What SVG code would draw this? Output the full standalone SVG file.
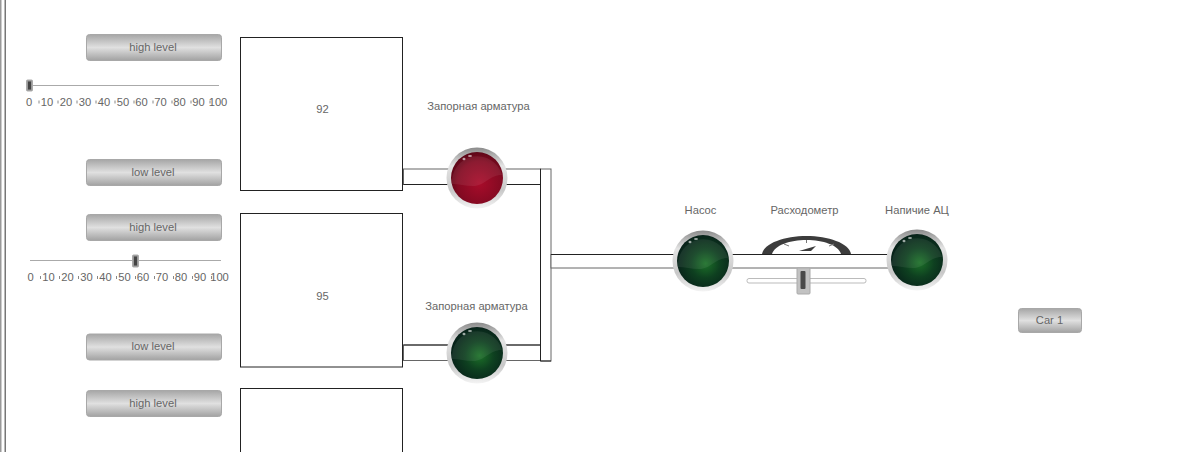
<svg xmlns="http://www.w3.org/2000/svg" width="1199" height="452" viewBox="0 0 1199 452">
<style>
text{font-family:"Liberation Sans",Arial,sans-serif;font-size:11.2px;fill:#666;text-anchor:middle}
.btn{fill:url(#bg);stroke:#a8a8a8;stroke-width:1}
.box{fill:#fff;stroke:#222;stroke-width:1}
.pipe{fill:#fff;stroke:#666;stroke-width:1}
.dark{fill:none;stroke:#222;stroke-width:1}
.rim{fill:url(#rim)}
.shine{fill:#fff;opacity:.07}
.spark{fill:#fff;opacity:.6}
.trk{stroke:#aaa;stroke-width:1}
.tick{stroke:#888;stroke-width:1}
.th{fill:#999;stroke:#aaa}
.thi{fill:#444}
</style>
<defs>
<linearGradient id="bg" x1="0" y1="0" x2="0" y2="1"><stop offset="0" stop-color="#a6a6a6"/><stop offset=".5" stop-color="#e0e0e0"/><stop offset="1" stop-color="#a2a2a2"/></linearGradient>
<linearGradient id="rim" x1="0" y1="0" x2="0" y2="1"><stop offset="0" stop-color="#8a8a8a"/><stop offset=".3" stop-color="#e4e4e4"/><stop offset=".7" stop-color="#c8c8c8"/><stop offset="1" stop-color="#f4f4f4"/></linearGradient>
<radialGradient id="green" cx=".55" cy=".55" r=".55"><stop offset="0" stop-color="#1c7028"/><stop offset=".5" stop-color="#0e4020"/><stop offset="1" stop-color="#08231a"/></radialGradient>
<radialGradient id="red" cx=".55" cy=".6" r=".6"><stop offset="0" stop-color="#a80c2a"/><stop offset=".7" stop-color="#840a22"/><stop offset="1" stop-color="#5c0718"/></radialGradient>
<g id="gl"><path class="shine" d="M-25,6A25.500,25.500 0 0 1 25,-3C12,-3 8,8 -4,8C-12,8 -18,6 -25,6Z"/><ellipse class="spark" cx="-13" cy="-19" rx="1.500" ry="1.200"/><ellipse class="spark" cx="-7" cy="-22" rx="2" ry="1.100"/></g>
<g id="scale">
<line class="tick" x1="10" y1="-5" x2="10" y2="-2"/><line class="tick" x1="29" y1="-5" x2="29" y2="-2"/><line class="tick" x1="48" y1="-5" x2="48" y2="-2"/><line class="tick" x1="67" y1="-5" x2="67" y2="-2"/><line class="tick" x1="86" y1="-5" x2="86" y2="-2"/><line class="tick" x1="105" y1="-5" x2="105" y2="-2"/><line class="tick" x1="124" y1="-5" x2="124" y2="-2"/><line class="tick" x1="143" y1="-5" x2="143" y2="-2"/><line class="tick" x1="162" y1="-5" x2="162" y2="-2"/><line class="tick" x1="181" y1="-5" x2="181" y2="-2"/>
<text x="0" y="0">0</text><text x="18" y="0">10</text><text x="37" y="0">20</text><text x="56" y="0">30</text><text x="75" y="0">40</text><text x="94" y="0">50</text><text x="112.500" y="0">60</text><text x="131.500" y="0">70</text><text x="150.500" y="0">80</text><text x="169.500" y="0">90</text><text x="189" y="0">100</text>
</g>
</defs>
<rect width="1199" height="452" fill="#fff"/>
<g id="frame"><rect x="0" y="0" width="1.500" height="452" fill="#999"/><rect x="4.500" y="0" width="1.500" height="452" fill="#777"/></g>

<g id="connectors">
<rect class="pipe" x="403.500" y="169" width="137" height="15.500"/>
<rect class="pipe" x="403.500" y="345" width="137" height="15.500"/>
<path class="dark" d="M403.500,184.500H540.500M403.500,345H540.500"/>
<rect class="pipe" x="540.500" y="169" width="10.500" height="192"/>
<path class="dark" d="M540.500,169V361H551"/>
<rect class="pipe" x="551" y="254.500" width="339" height="13.500"/>
<path class="dark" d="M551,254.500H890"/>
</g>

<g id="btn-high-1"><rect class="btn" x="86.500" y="34.500" width="135" height="26" rx="3"/><text x="153" y="50.500">high level</text></g>
<g id="btn-low-1"><rect class="btn" x="86.500" y="159.500" width="135" height="26" rx="3"/><text x="153" y="175.500">low level</text></g>
<g id="btn-high-2"><rect class="btn" x="86.500" y="214.500" width="135" height="26" rx="3"/><text x="153" y="230.500">high level</text></g>
<g id="btn-low-2"><rect class="btn" x="86.500" y="334" width="135" height="26" rx="3"/><text x="153" y="350">low level</text></g>
<g id="btn-high-3"><rect class="btn" x="86.500" y="390.500" width="135" height="26" rx="3"/><text x="153" y="406.500">high level</text></g>

<g id="slider-1"><line class="trk" x1="29" y1="85.500" x2="219" y2="85.500"/><rect class="th" x="26.500" y="80" width="6" height="11" rx="1"/><rect class="thi" x="28" y="81.500" width="3" height="8"/><use href="#scale" x="29" y="105.500"/></g>
<g id="slider-2"><line class="trk" x1="30" y1="260.500" x2="221" y2="260.500"/><rect class="th" x="132.500" y="255" width="6" height="12" rx="1"/><rect class="thi" x="134" y="256.500" width="3" height="9"/><use href="#scale" x="30.500" y="281"/></g>

<g id="tank-92"><rect class="box" x="240.500" y="37.500" width="162" height="153"/><text x="322.500" y="112.500">92</text></g>
<g id="tank-95"><rect class="box" x="240.500" y="213.500" width="162" height="153.500"/><text x="322.500" y="299.500">95</text></g>
<g id="tank-3"><rect class="box" x="240.500" y="388.500" width="162" height="70"/></g>

<g id="valve-1"><text x="478.500" y="110">Запорная арматура</text><circle class="rim" cx="477" cy="178" r="30.500"/><circle cx="477" cy="178" r="26" fill="url(#red)"/><use href="#gl" x="477" y="178"/></g>
<g id="valve-2"><text x="476.500" y="310">Запорная арматура</text><circle class="rim" cx="477" cy="353" r="30.500"/><circle cx="477" cy="353" r="26" fill="url(#green)"/><use href="#gl" x="477" y="353"/></g>
<g id="pump"><text x="700.500" y="214">Насос</text><circle class="rim" cx="703" cy="261" r="30.500"/><circle cx="703" cy="261" r="26" fill="url(#green)"/><use href="#gl" x="703" y="261"/></g>
<g id="presence"><text x="917" y="214">Напичие АЦ</text><circle class="rim" cx="917" cy="260" r="30.500"/><circle cx="917" cy="260" r="26" fill="url(#green)"/><use href="#gl" x="917" y="260"/></g>

<g id="flowmeter"><text x="804.500" y="214">Расходометр</text>
<path d="M762,254C764,243 785,236 806.500,236C828,236 849,243 851,254Z" fill="#3c3c3c"/>
<path d="M772,254C775,245 790,240 806.500,240C823,240 838,245 841,254Z" fill="#fff"/>
<path d="M799,251L816,246L811,251Z" fill="#3c3c3c"/>
<path d="M806.500,240V243M784,244L789,246M829,246L834,244" stroke="#777" fill="none"/>
<rect x="747" y="278.500" width="119" height="4.500" rx="2" fill="#fff" stroke="#bbb"/>
<rect x="797" y="268" width="13" height="26" rx="1" fill="#c2c2c2" stroke="#aaa"/>
<rect x="800.500" y="271" width="5" height="18" rx="1" fill="#4a4a4a"/></g>

<g id="car-1"><rect class="btn" x="1018.500" y="308.500" width="63" height="24" rx="3"/><text x="1049.500" y="324">Car 1</text></g>
</svg>
